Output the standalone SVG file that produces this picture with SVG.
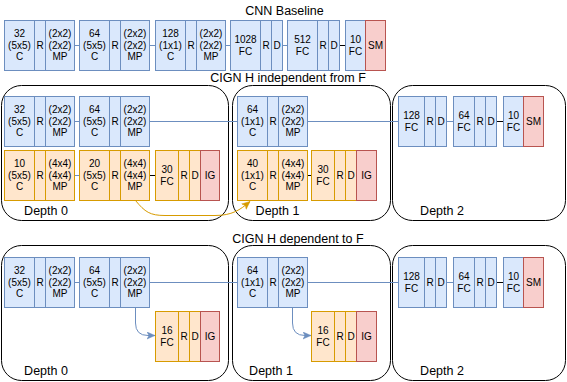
<svg xmlns="http://www.w3.org/2000/svg" width="567" height="382" viewBox="0 0 567 382">
<style>
.b{fill:#dae8fc;stroke:#6c8ebf;stroke-width:1}
.o{fill:#ffe6cc;stroke:#d79b00;stroke-width:1}
.r{fill:#f8cecc;stroke:#b85450;stroke-width:1}
.f{fill:none;stroke:#000;stroke-width:1}
.t{font-family:"Liberation Sans",Arial,sans-serif;font-size:10px;text-anchor:middle;fill:#000}
.h{font-family:"Liberation Sans",Arial,sans-serif;font-size:12.5px;text-anchor:middle;fill:#000}
.lb{stroke:#6c8ebf;stroke-width:1;fill:none}
.lk{stroke:#000;stroke-width:1;fill:none}
.lo{stroke:#d79b00;stroke-width:1;fill:none}
</style>
<defs>
<marker id="ab" markerUnits="userSpaceOnUse" markerWidth="9" markerHeight="8" refX="8" refY="4" orient="auto"><path d="M0,0.5 L8,4 L0,7.5 L2,4 z" fill="#6c8ebf" stroke="#6c8ebf" stroke-width="0.5"/></marker>
<marker id="ao" markerUnits="userSpaceOnUse" markerWidth="9" markerHeight="8" refX="8" refY="4" orient="auto"><path d="M0,0.5 L8,4 L0,7.5 L2,4 z" fill="#d79b00" stroke="#d79b00" stroke-width="0.5"/></marker>
</defs>

<!-- titles -->
<text class="h" x="284.5" y="15">CNN Baseline</text>
<text class="h" x="288" y="81.5">CIGN H independent from F</text>
<text class="h" x="298" y="242.5">CIGN H dependent to F</text>

<!-- frames -->
<g id="frames">
<rect id="mid-depth0" class="f" x="1.5" y="85.5" width="227" height="135" rx="20"/>
<rect id="mid-depth1" class="f" x="232.5" y="85.5" width="158" height="135" rx="20"/>
<rect id="mid-depth2" class="f" x="392.5" y="85.5" width="173" height="135" rx="20"/>
<rect id="bot-depth0" class="f" x="1.5" y="245.5" width="227" height="135" rx="20"/>
<rect id="bot-depth1" class="f" x="232.5" y="245.5" width="158" height="135" rx="20"/>
<rect id="bot-depth2" class="f" x="392.5" y="245.5" width="173" height="135" rx="20"/>
<text class="h" x="46" y="214.5">Depth 0</text>
<text class="h" x="277.5" y="214.5">Depth 1</text>
<text class="h" x="442" y="214.5">Depth 2</text>
<text class="h" x="46" y="375">Depth 0</text>
<text class="h" x="271" y="375">Depth 1</text>
<text class="h" x="442" y="375">Depth 2</text>
</g>

<!-- connectors -->
<g id="connectors">
<line class="lb" x1="74.5" y1="45.5" x2="79.5" y2="45.5"/>
<line class="lb" x1="149.5" y1="45.5" x2="155.5" y2="45.5"/>
<line class="lb" x1="225.5" y1="45.5" x2="230.5" y2="45.5"/>
<line class="lb" x1="282.5" y1="45.5" x2="287.5" y2="45.5"/>
<line class="lk" x1="339.5" y1="45.5" x2="345.5" y2="45.5"/>

<line class="lb" x1="74.5" y1="121.5" x2="79.5" y2="121.5"/>
<line class="lb" x1="149.5" y1="121.5" x2="398.5" y2="121.5"/>
<line class="lb" x1="446.5" y1="121.5" x2="453.5" y2="121.5"/>
<line class="lk" x1="496.5" y1="121.5" x2="503.5" y2="121.5"/>
<line class="lb" x1="74.5" y1="175.5" x2="79.5" y2="175.5"/>
<line class="lk" x1="149.5" y1="175.5" x2="155.5" y2="175.5"/>
<line class="lk" x1="307.5" y1="175.5" x2="311.5" y2="175.5"/>
<path class="lo" d="M135.5,200.5 C145,212 150,215.5 165,215.5 L215,215.5 C232,215.5 240,210 250,201.5" marker-end="url(#ao)"/>

<line class="lb" x1="74.5" y1="282.5" x2="79.5" y2="282.5"/>
<line class="lb" x1="149.5" y1="282.5" x2="398.5" y2="282.5"/>
<line class="lb" x1="446.5" y1="282.5" x2="453.5" y2="282.5"/>
<line class="lk" x1="496.5" y1="282.5" x2="503.5" y2="282.5"/>
<path class="lb" d="M135.5,307.5 L135.5,323 Q135.5,335.5 148,335.5 L155,335.5" marker-end="url(#ab)"/>
<path class="lb" d="M292.5,307.5 L292.5,323 Q292.5,335.5 305,335.5 L311,335.5" marker-end="url(#ab)"/>
</g>

<!-- CNN baseline row -->
<g id="cnn-conv1">
<rect class="b" x="4.5" y="20.5" width="30" height="50"/><rect class="b" x="34.5" y="20.5" width="11" height="50"/><rect class="b" x="45.5" y="20.5" width="29" height="50"/>
<text class="t" x="19.5" y="37">32<tspan x="19.5" dy="11.7">(5x5)</tspan><tspan x="19.5" dy="11.7">C</tspan></text>
<text class="t" x="40" y="49">R</text>
<text class="t" x="60" y="37">(2x2)<tspan x="60" dy="11.7">(2x2)</tspan><tspan x="60" dy="11.7">MP</tspan></text>
</g>
<g id="cnn-conv2">
<rect class="b" x="79.5" y="20.5" width="30" height="50"/><rect class="b" x="109.5" y="20.5" width="11" height="50"/><rect class="b" x="120.5" y="20.5" width="29" height="50"/>
<text class="t" x="94.5" y="37">64<tspan x="94.5" dy="11.7">(5x5)</tspan><tspan x="94.5" dy="11.7">C</tspan></text>
<text class="t" x="115" y="49">R</text>
<text class="t" x="135" y="37">(2x2)<tspan x="135" dy="11.7">(2x2)</tspan><tspan x="135" dy="11.7">MP</tspan></text>
</g>
<g id="cnn-conv3">
<rect class="b" x="155.5" y="20.5" width="30" height="50"/><rect class="b" x="185.5" y="20.5" width="11" height="50"/><rect class="b" x="196.5" y="20.5" width="29" height="50"/>
<text class="t" x="170.5" y="37">128<tspan x="170.5" dy="11.7">(1x1)</tspan><tspan x="170.5" dy="11.7">C</tspan></text>
<text class="t" x="191" y="49">R</text>
<text class="t" x="211" y="37">(2x2)<tspan x="211" dy="11.7">(2x2)</tspan><tspan x="211" dy="11.7">MP</tspan></text>
</g>
<g id="cnn-fc1028">
<rect class="b" x="230.5" y="20.5" width="30" height="50"/><rect class="b" x="260.5" y="20.5" width="11" height="50"/><rect class="b" x="271.5" y="20.5" width="11" height="50"/>
<text class="t" x="245.5" y="43">1028<tspan x="245.5" dy="12">FC</tspan></text>
<text class="t" x="266" y="49">R</text><text class="t" x="277" y="49">D</text>
</g>
<g id="cnn-fc512">
<rect class="b" x="287.5" y="20.5" width="30" height="50"/><rect class="b" x="317.5" y="20.5" width="11" height="50"/><rect class="b" x="328.5" y="20.5" width="11" height="50"/>
<text class="t" x="302.5" y="43">512<tspan x="302.5" dy="12">FC</tspan></text>
<text class="t" x="323" y="49">R</text><text class="t" x="334" y="49">D</text>
</g>
<g id="cnn-fc10">
<rect class="b" x="345.5" y="20.5" width="20" height="50"/><rect class="r" x="365.5" y="20.5" width="20" height="50"/>
<text class="t" x="355.5" y="43">10<tspan x="355.5" dy="12">FC</tspan></text>
<text class="t" x="375.5" y="49">SM</text>
</g>

<!-- CIGN independent -->
<g id="ind-f-conv1">
<rect class="b" x="4.5" y="96.5" width="30" height="50"/><rect class="b" x="34.5" y="96.5" width="11" height="50"/><rect class="b" x="45.5" y="96.5" width="29" height="50"/>
<text class="t" x="19.5" y="113">32<tspan x="19.5" dy="11.7">(5x5)</tspan><tspan x="19.5" dy="11.7">C</tspan></text>
<text class="t" x="40" y="125">R</text>
<text class="t" x="60" y="113">(2x2)<tspan x="60" dy="11.7">(2x2)</tspan><tspan x="60" dy="11.7">MP</tspan></text>
</g>
<g id="ind-f-conv2">
<rect class="b" x="79.5" y="96.5" width="30" height="50"/><rect class="b" x="109.5" y="96.5" width="11" height="50"/><rect class="b" x="120.5" y="96.5" width="29" height="50"/>
<text class="t" x="94.5" y="113">64<tspan x="94.5" dy="11.7">(5x5)</tspan><tspan x="94.5" dy="11.7">C</tspan></text>
<text class="t" x="115" y="125">R</text>
<text class="t" x="135" y="113">(2x2)<tspan x="135" dy="11.7">(2x2)</tspan><tspan x="135" dy="11.7">MP</tspan></text>
</g>
<g id="ind-h-conv1">
<rect class="o" x="4.5" y="150.5" width="30" height="50"/><rect class="o" x="34.5" y="150.5" width="11" height="50"/><rect class="o" x="45.5" y="150.5" width="29" height="50"/>
<text class="t" x="19.5" y="167">10<tspan x="19.5" dy="11.7">(5x5)</tspan><tspan x="19.5" dy="11.7">C</tspan></text>
<text class="t" x="40" y="179">R</text>
<text class="t" x="60" y="167">(4x4)<tspan x="60" dy="11.7">(4x4)</tspan><tspan x="60" dy="11.7">MP</tspan></text>
</g>
<g id="ind-h-conv2">
<rect class="o" x="79.5" y="150.5" width="30" height="50"/><rect class="o" x="109.5" y="150.5" width="11" height="50"/><rect class="o" x="120.5" y="150.5" width="29" height="50"/>
<text class="t" x="94.5" y="167">20<tspan x="94.5" dy="11.7">(5x5)</tspan><tspan x="94.5" dy="11.7">C</tspan></text>
<text class="t" x="115" y="179">R</text>
<text class="t" x="135" y="167">(4x4)<tspan x="135" dy="11.7">(4x4)</tspan><tspan x="135" dy="11.7">MP</tspan></text>
</g>
<g id="ind-h-fc30-d0">
<rect class="o" x="155.5" y="150.5" width="23" height="50"/><rect class="o" x="178.5" y="150.5" width="11" height="50"/><rect class="o" x="189.5" y="150.5" width="11" height="50"/><rect class="r" x="200.5" y="150.5" width="19" height="50"/>
<text class="t" x="167" y="173">30<tspan x="167" dy="12">FC</tspan></text>
<text class="t" x="184" y="179">R</text><text class="t" x="195" y="179">D</text><text class="t" x="210" y="179">IG</text>
</g>
<g id="ind-f-conv3">
<rect class="b" x="237.5" y="96.5" width="30" height="50"/><rect class="b" x="267.5" y="96.5" width="11" height="50"/><rect class="b" x="278.5" y="96.5" width="29" height="50"/>
<text class="t" x="252.5" y="113">64<tspan x="252.5" dy="11.7">(1x1)</tspan><tspan x="252.5" dy="11.7">C</tspan></text>
<text class="t" x="273" y="125">R</text>
<text class="t" x="293" y="113">(2x2)<tspan x="293" dy="11.7">(2x2)</tspan><tspan x="293" dy="11.7">MP</tspan></text>
</g>
<g id="ind-h-conv3">
<rect class="o" x="237.5" y="150.5" width="30" height="50"/><rect class="o" x="267.5" y="150.5" width="11" height="50"/><rect class="o" x="278.5" y="150.5" width="29" height="50"/>
<text class="t" x="252.5" y="167">40<tspan x="252.5" dy="11.7">(1x1)</tspan><tspan x="252.5" dy="11.7">C</tspan></text>
<text class="t" x="273" y="179">R</text>
<text class="t" x="293" y="167">(4x4)<tspan x="293" dy="11.7">(4x4)</tspan><tspan x="293" dy="11.7">MP</tspan></text>
</g>
<g id="ind-h-fc30-d1">
<rect class="o" x="311.5" y="150.5" width="23" height="50"/><rect class="o" x="334.5" y="150.5" width="11" height="50"/><rect class="o" x="345.5" y="150.5" width="11" height="50"/><rect class="r" x="356.5" y="150.5" width="20" height="50"/>
<text class="t" x="323" y="173">30<tspan x="323" dy="12">FC</tspan></text>
<text class="t" x="340" y="179">R</text><text class="t" x="351" y="179">D</text><text class="t" x="366.5" y="179">IG</text>
</g>
<g id="ind-fc128">
<rect class="b" x="398.5" y="96.5" width="26" height="50"/><rect class="b" x="424.5" y="96.5" width="11" height="50"/><rect class="b" x="435.5" y="96.5" width="11" height="50"/>
<text class="t" x="411.5" y="119">128<tspan x="411.5" dy="12">FC</tspan></text>
<text class="t" x="430" y="125">R</text><text class="t" x="441" y="125">D</text>
</g>
<g id="ind-fc64">
<rect class="b" x="453.5" y="96.5" width="21" height="50"/><rect class="b" x="474.5" y="96.5" width="11" height="50"/><rect class="b" x="485.5" y="96.5" width="11" height="50"/>
<text class="t" x="464" y="119">64<tspan x="464" dy="12">FC</tspan></text>
<text class="t" x="480" y="125">R</text><text class="t" x="491" y="125">D</text>
</g>
<g id="ind-fc10">
<rect class="b" x="503.5" y="96.5" width="20" height="50"/><rect class="r" x="523.5" y="96.5" width="20" height="50"/>
<text class="t" x="513.5" y="119">10<tspan x="513.5" dy="12">FC</tspan></text>
<text class="t" x="533.5" y="125">SM</text>
</g>

<!-- CIGN dependent -->
<g id="dep-f-conv1">
<rect class="b" x="4.5" y="257.5" width="30" height="50"/><rect class="b" x="34.5" y="257.5" width="11" height="50"/><rect class="b" x="45.5" y="257.5" width="29" height="50"/>
<text class="t" x="19.5" y="274">32<tspan x="19.5" dy="11.7">(5x5)</tspan><tspan x="19.5" dy="11.7">C</tspan></text>
<text class="t" x="40" y="286">R</text>
<text class="t" x="60" y="274">(2x2)<tspan x="60" dy="11.7">(2x2)</tspan><tspan x="60" dy="11.7">MP</tspan></text>
</g>
<g id="dep-f-conv2">
<rect class="b" x="79.5" y="257.5" width="30" height="50"/><rect class="b" x="109.5" y="257.5" width="11" height="50"/><rect class="b" x="120.5" y="257.5" width="29" height="50"/>
<text class="t" x="94.5" y="274">64<tspan x="94.5" dy="11.7">(5x5)</tspan><tspan x="94.5" dy="11.7">C</tspan></text>
<text class="t" x="115" y="286">R</text>
<text class="t" x="135" y="274">(2x2)<tspan x="135" dy="11.7">(2x2)</tspan><tspan x="135" dy="11.7">MP</tspan></text>
</g>
<g id="dep-h-fc16-d0">
<rect class="o" x="155.5" y="311.5" width="23" height="50"/><rect class="o" x="178.5" y="311.5" width="11" height="50"/><rect class="o" x="189.5" y="311.5" width="11" height="50"/><rect class="r" x="200.5" y="311.5" width="19" height="50"/>
<text class="t" x="167" y="334">16<tspan x="167" dy="12">FC</tspan></text>
<text class="t" x="184" y="340">R</text><text class="t" x="195" y="340">D</text><text class="t" x="210" y="340">IG</text>
</g>
<g id="dep-f-conv3">
<rect class="b" x="237.5" y="257.5" width="30" height="50"/><rect class="b" x="267.5" y="257.5" width="11" height="50"/><rect class="b" x="278.5" y="257.5" width="29" height="50"/>
<text class="t" x="252.5" y="274">64<tspan x="252.5" dy="11.7">(1x1)</tspan><tspan x="252.5" dy="11.7">C</tspan></text>
<text class="t" x="273" y="286">R</text>
<text class="t" x="293" y="274">(2x2)<tspan x="293" dy="11.7">(2x2)</tspan><tspan x="293" dy="11.7">MP</tspan></text>
</g>
<g id="dep-h-fc16-d1">
<rect class="o" x="311.5" y="311.5" width="23" height="50"/><rect class="o" x="334.5" y="311.5" width="11" height="50"/><rect class="o" x="345.5" y="311.5" width="11" height="50"/><rect class="r" x="356.5" y="311.5" width="20" height="50"/>
<text class="t" x="323" y="334">16<tspan x="323" dy="12">FC</tspan></text>
<text class="t" x="340" y="340">R</text><text class="t" x="351" y="340">D</text><text class="t" x="366.5" y="340">IG</text>
</g>
<g id="dep-fc128">
<rect class="b" x="398.5" y="257.5" width="26" height="50"/><rect class="b" x="424.5" y="257.5" width="11" height="50"/><rect class="b" x="435.5" y="257.5" width="11" height="50"/>
<text class="t" x="411.5" y="280">128<tspan x="411.5" dy="12">FC</tspan></text>
<text class="t" x="430" y="286">R</text><text class="t" x="441" y="286">D</text>
</g>
<g id="dep-fc64">
<rect class="b" x="453.5" y="257.5" width="21" height="50"/><rect class="b" x="474.5" y="257.5" width="11" height="50"/><rect class="b" x="485.5" y="257.5" width="11" height="50"/>
<text class="t" x="464" y="280">64<tspan x="464" dy="12">FC</tspan></text>
<text class="t" x="480" y="286">R</text><text class="t" x="491" y="286">D</text>
</g>
<g id="dep-fc10">
<rect class="b" x="503.5" y="257.5" width="20" height="50"/><rect class="r" x="523.5" y="257.5" width="20" height="50"/>
<text class="t" x="513.5" y="280">10<tspan x="513.5" dy="12">FC</tspan></text>
<text class="t" x="533.5" y="286">SM</text>
</g>
</svg>
